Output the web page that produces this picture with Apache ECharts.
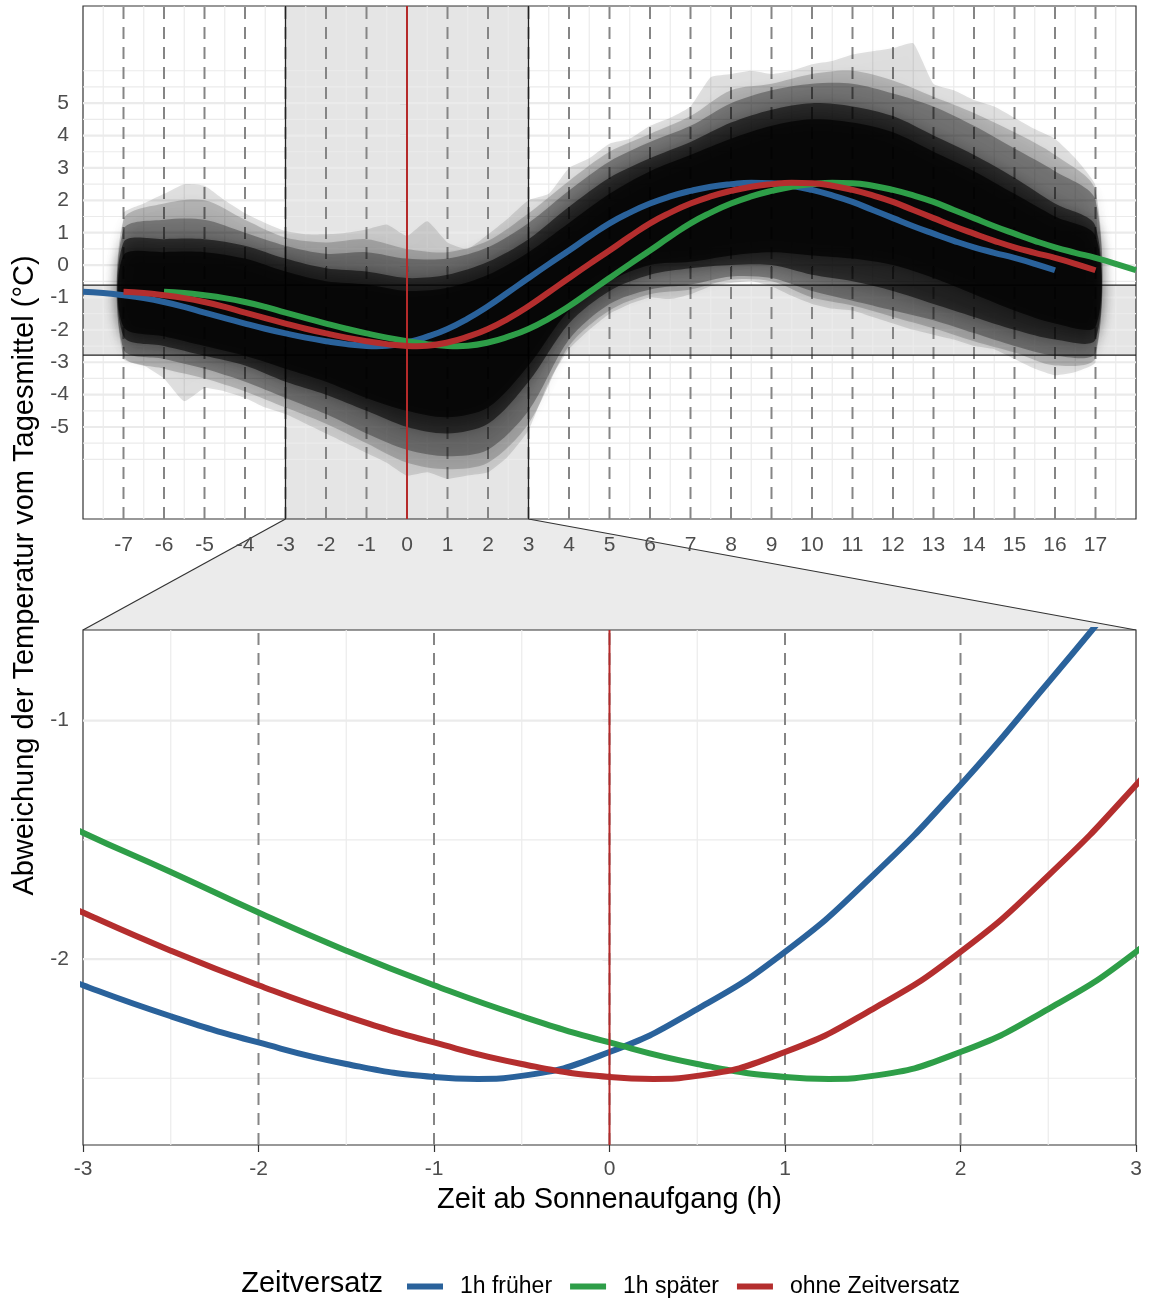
<!DOCTYPE html>
<html>
<head>
<meta charset="utf-8">
<script src="https://cdn.jsdelivr.net/npm/echarts/dist/echarts.min.js"></script>
<style>
  html, body { margin: 0; padding: 0; background: #ffffff; }
  #chart { width: 1151px; height: 1301px; }
</style>
</head>
<body>
<div id="chart"></div>
<script>
const FONT = '"Liberation Sans", Arial, Helvetica, sans-serif';

// Achsenbereiche: Gesamtansicht oben, Ausschnitt (Zoom) unten
const xBereichOben = [-8, 18];
const yBereichOben = [-7.84, 8];
const zoomX = [-3, 3];
const zoomY = [-2.78, -0.62];

// Achsenbeschriftungen
const xTicksOben = [-7, -6, -5, -4, -3, -2, -1, 0, 1, 2, 3, 4, 5, 6, 7, 8, 9, 10, 11, 12, 13, 14, 15, 16, 17];
const yTicksOben = [-5, -4, -3, -2, -1, 0, 1, 2, 3, 4, 5];
const xTicksUnten = [-3, -2, -1, 0, 1, 2, 3];
const yTicksUnten = [-2, -1];

// Hilfslinien
const xNebenOben = [-7.5, -6.5, -5.5, -4.5, -3.5, -2.5, -1.5, -0.5, 0.5, 1.5, 2.5, 3.5, 4.5, 5.5, 6.5, 7.5, 8.5, 9.5, 10.5, 11.5, 12.5, 13.5, 14.5, 15.5, 16.5, 17.5];
const yNebenOben = [-6, -5.5, -4.5, -3.5, -2.5, -1.5, -0.5, 0.5, 1.5, 2.5, 3.5, 4.5, 5.5, 6];
const xNebenUnten = [-2.5, -1.5, -0.5, 0.5, 1.5, 2.5];
const yNebenUnten = [-2.5, -1.5];
const stundenMarken = [-7, -6, -5, -4, -3, -2, -1, 0, 1, 2, 3, 4, 5, 6, 7, 8, 9, 10, 11, 12, 13, 14, 15, 16, 17];
const sonnenaufgang = 0;

// Geglättete Tagesgänge (Stunden ab Sonnenaufgang, Abweichung in °C)
const stundenOhne = [-7, -6.5, -6, -5.5, -5, -4.5, -4, -3.5, -3, -2.5, -2, -1.5, -1, -0.5, 0, 0.25, 0.5, 1, 1.5, 2, 2.5, 3, 3.5, 4, 4.5, 5, 5.5, 6, 6.5, 7, 7.5, 8, 8.5, 9, 9.5, 10, 10.5, 11, 11.5, 12, 12.5, 13, 13.5, 14, 14.5, 15, 15.5, 16, 16.5, 17];
const ohneZeitversatz = [-0.82, -0.86, -0.93, -1.02, -1.14, -1.29, -1.47, -1.635, -1.805, -1.965, -2.11, -2.24, -2.35, -2.44, -2.495, -2.503, -2.49, -2.39, -2.21, -1.97, -1.65, -1.27, -0.84, -0.40, 0.03, 0.45, 0.88, 1.29, 1.62, 1.90, 2.12, 2.29, 2.42, 2.50, 2.545, 2.53, 2.45, 2.32, 2.15, 1.95, 1.70, 1.45, 1.20, 0.97, 0.75, 0.55, 0.38, 0.22, 0.04, -0.16];

const stundenFrueher = [-8, -7.5, -7, -6.5, -6, -5.5, -5, -4.5, -4, -3.5, -3, -2.5, -2, -1.5, -1, -0.75, -0.5, 0, 0.5, 1, 1.5, 2, 2.5, 3, 3.5, 4, 4.5, 5, 5.5, 6, 6.5, 7, 7.5, 8, 8.5, 9, 9.5, 10, 10.5, 11, 11.5, 12, 12.5, 13, 13.5, 14, 14.5, 15, 15.5, 16];
const frueher = [-0.82, -0.86, -0.93, -1.02, -1.14, -1.29, -1.47, -1.635, -1.805, -1.965, -2.11, -2.24, -2.35, -2.44, -2.495, -2.503, -2.49, -2.39, -2.21, -1.97, -1.65, -1.27, -0.84, -0.40, 0.03, 0.45, 0.88, 1.29, 1.62, 1.90, 2.12, 2.29, 2.42, 2.50, 2.545, 2.53, 2.45, 2.32, 2.15, 1.95, 1.70, 1.45, 1.20, 0.97, 0.75, 0.55, 0.38, 0.22, 0.04, -0.16];

const stundenSpaeter = [-6, -5.5, -5, -4.5, -4, -3.5, -3, -2.5, -2, -1.5, -1, -0.5, 0, 0.5, 1, 1.25, 1.5, 2, 2.5, 3, 3.5, 4, 4.5, 5, 5.5, 6, 6.5, 7, 7.5, 8, 8.5, 9, 9.5, 10, 10.5, 11, 11.5, 12, 12.5, 13, 13.5, 14, 14.5, 15, 15.5, 16, 16.5, 17, 17.5, 18];
const spaeter = [-0.82, -0.86, -0.93, -1.02, -1.14, -1.29, -1.47, -1.635, -1.805, -1.965, -2.11, -2.24, -2.35, -2.44, -2.495, -2.503, -2.49, -2.39, -2.21, -1.97, -1.65, -1.27, -0.84, -0.40, 0.03, 0.45, 0.88, 1.29, 1.62, 1.90, 2.12, 2.29, 2.42, 2.50, 2.545, 2.53, 2.45, 2.32, 2.15, 1.95, 1.70, 1.45, 1.20, 0.97, 0.75, 0.55, 0.38, 0.22, 0.04, -0.16];

// Streuung der Einzeltage: äußere Hülle (halbstündlich), dichtere Bereiche (stündlich)
const wolkeStunden = [-7, -6.5, -6, -5.5, -5, -4.5, -4, -3.5, -3, -2.5, -2, -1.5, -1, -0.5, 0, 0.5, 1, 1.5, 2, 2.5, 3, 3.5, 4, 4.5, 5, 5.5, 6, 6.5, 7, 7.5, 8, 8.5, 9, 9.5, 10, 10.5, 11, 11.5, 12, 12.5, 13, 13.5, 14, 14.5, 15, 15.5, 16, 16.5, 17];
const huelleOben = [1.6, 1.9, 2.2, 2.5, 2.45, 2.0, 1.6, 1.3, 1.05, 0.95, 0.95, 1.0, 1.1, 1.25, 0.9, 1.35, 0.7, 0.5, 0.95, 1.45, 2.0, 2.2, 3.0, 3.3, 3.75, 3.9, 4.3, 4.55, 4.9, 5.8, 5.9, 6.0, 5.9, 6.0, 6.2, 6.3, 6.5, 6.6, 6.7, 6.85, 5.6, 5.4, 5.1, 4.9, 4.55, 4.2, 3.9, 3.3, 2.45];
const huelleUnten = [-2.9, -3.1, -3.5, -4.2, -3.8, -3.9, -4.1, -4.4, -4.6, -4.9, -5.2, -5.5, -5.8, -6.1, -6.5, -6.4, -6.6, -6.5, -6.4, -5.9, -5.1, -3.6, -2.6, -2.0, -1.5, -1.2, -1.0, -1.05, -0.9, -0.65, -0.55, -0.5, -0.65, -0.95, -1.2, -1.35, -1.4, -1.6, -1.8, -2.0, -2.15, -2.3, -2.5, -2.6, -2.9, -3.2, -3.4, -3.3, -3.0];

const dichteStunden = [-7, -6, -5, -4, -3, -2, -1, 0, 1, 2, 3, 4, 5, 6, 7, 8, 9, 10, 11, 12, 13, 14, 15, 16, 17];
const randOben = [1.4, 1.9, 2.0, 1.4, 0.85, 0.7, 0.8, 0.5, 0.4, 0.75, 1.6, 2.6, 3.5, 4.05, 4.6, 5.4, 5.6, 5.9, 6.0, 5.7, 5.2, 4.7, 4.1, 3.4, 2.3];
const randUnten = [-2.8, -3.2, -3.5, -3.9, -4.4, -4.9, -5.5, -6.1, -6.3, -6.1, -4.9, -2.5, -1.4, -0.9, -0.75, -0.45, -0.5, -1.0, -1.25, -1.6, -1.95, -2.35, -2.7, -3.1, -2.85];
const mitteOben = [1.1, 1.4, 1.4, 1.0, 0.6, 0.35, 0.4, 0.2, 0.2, 0.55, 1.3, 2.3, 3.2, 3.8, 4.3, 5.0, 5.4, 5.6, 5.6, 5.3, 4.9, 4.3, 3.6, 2.9, 2.0];
const mitteUnten = [-2.6, -2.9, -3.2, -3.6, -4.1, -4.6, -5.2, -5.7, -5.9, -5.7, -4.5, -2.3, -1.2, -0.75, -0.6, -0.35, -0.4, -0.8, -1.1, -1.4, -1.7, -2.1, -2.5, -2.8, -2.7];
const kernOben = [0.7, 0.8, 0.8, 0.6, 0.2, -0.1, -0.2, -0.4, -0.3, 0.1, 0.8, 1.8, 2.7, 3.3, 3.8, 4.4, 4.8, 5.0, 4.9, 4.6, 4.0, 3.4, 2.7, 1.9, 1.2];
const kernUnten = [-2.2, -2.5, -2.8, -3.1, -3.6, -4.0, -4.5, -5.0, -5.2, -4.9, -3.6, -1.8, -0.8, -0.3, -0.1, 0.0, 0.0, -0.3, -0.5, -0.8, -1.2, -1.6, -2.0, -2.3, -2.3];
const innenOben = [0.3, 0.4, 0.4, 0.2, -0.2, -0.5, -0.6, -0.8, -0.7, -0.3, 0.4, 1.3, 2.2, 2.9, 3.4, 3.9, 4.3, 4.5, 4.4, 4.1, 3.5, 2.9, 2.2, 1.5, 0.9];
const innenUnten = [-1.9, -2.2, -2.5, -2.8, -3.2, -3.6, -4.1, -4.5, -4.7, -4.4, -3.1, -1.4, -0.5, 0.0, 0.1, 0.3, 0.4, 0.3, 0.2, 0.0, -0.4, -0.9, -1.4, -1.8, -1.9];

const NAME_FRUEHER = '1h früher';
const NAME_SPAETER = '1h später';
const NAME_OHNE = 'ohne Zeitversatz';
const FARBE = { frueher: '#2a629b', spaeter: '#2e9e48', ohne: '#b42e2e' };

const chart = echarts.init(document.getElementById('chart'), null, { renderer: 'canvas' });

function paare(xs, ys) { return xs.map((x, i) => [x, ys[i]]); }

// Linien und Flächen im Koordinatensystem eines Panels (senkrecht: 'x', waagrecht: 'y')
function ebene(idx, z, xr, yr, elemente) {
  return {
    type: 'custom', xAxisIndex: idx, yAxisIndex: idx, z: z, silent: true,
    data: [[xr[0], yr[0]]],
    renderItem: function (params, api) {
      const children = elemente.map(function (e) {
        if (e.art === 'flaeche') {
          const p1 = api.coord([e.x[0], e.y[0]]);
          const p2 = api.coord([e.x[1], e.y[1]]);
          return {
            type: 'rect',
            shape: { x: Math.min(p1[0], p2[0]), y: Math.min(p1[1], p2[1]), width: Math.abs(p2[0] - p1[0]), height: Math.abs(p2[1] - p1[1]) },
            style: { fill: e.farbe }
          };
        }
        const p1 = e.art === 'x' ? api.coord([e.wert, yr[0]]) : api.coord([xr[0], e.wert]);
        const p2 = e.art === 'x' ? api.coord([e.wert, yr[1]]) : api.coord([xr[1], e.wert]);
        return {
          type: 'line', shape: { x1: p1[0], y1: p1[1], x2: p2[0], y2: p2[1] },
          style: { stroke: e.stil.color, lineWidth: e.stil.width, lineDash: e.stil.dash || null, fill: null }
        };
      });
      return { type: 'group', children: children };
    }
  };
}
function senkrecht(werte, stil) { return werte.map(v => ({ art: 'x', wert: v, stil: stil })); }
function waagrecht(werte, stil) { return werte.map(v => ({ art: 'y', wert: v, stil: stil })); }

// Fläche zwischen oberer und unterer Hülle, weich auslaufend
function band(hours, upper, lower, alpha, smooth, blur) {
  const fill = 'rgba(0,0,0,' + alpha + ')';
  return {
    type: 'custom', xAxisIndex: 0, yAxisIndex: 0, z: 3, silent: true,
    data: [[hours[0], upper[0]]],
    renderItem: function (params, api) {
      const pts = [];
      for (let i = 0; i < hours.length; i++) pts.push(api.coord([hours[i], upper[i]]));
      for (let i = hours.length - 1; i >= 0; i--) pts.push(api.coord([hours[i], lower[i]]));
      return {
        type: 'polygon', shape: { points: pts, smooth: smooth },
        style: { fill: fill, shadowBlur: blur, shadowColor: 'rgba(0,0,0,' + (alpha * 0.9) + ')' }
      };
    }
  };
}

function kurve(idx, name, xs, ys, color, width) {
  return {
    type: 'line', name: name, xAxisIndex: idx, yAxisIndex: idx, z: 4,
    data: paare(xs, ys), showSymbol: false, symbol: 'none', smooth: 0.5,
    lineStyle: { color: color, width: width }, itemStyle: { color: color },
    silent: true, clip: true
  };
}

const gitterHaupt = { color: '#ebebeb', width: 2.2 };
const gitterNeben = { color: '#ebebeb', width: 1.2 };
const strich = { color: '#858585', width: 2, dash: [12, 8] };
const zoomLinie = { color: '#222222', width: 1.3 };
const rot = { color: '#b52a2a', width: 2 };
const schattierung = 'rgba(0,0,0,0.10)';

const achseLabel = { fontSize: 21, color: '#4d4d4d', fontFamily: FONT };
const achseTick = { show: true, length: 7, lineStyle: { color: '#333333', width: 1.2 } };

const option = {
  animation: false,
  backgroundColor: '#ffffff',
  grid: [
    { left: 83, top: 6, width: 1053, height: 513, show: true, borderColor: '#333333', borderWidth: 1.2, backgroundColor: '#ffffff', containLabel: false },
    { left: 83, top: 630, width: 1053, height: 515, show: true, borderColor: '#333333', borderWidth: 1.2, backgroundColor: '#ffffff', containLabel: false }
  ],
  xAxis: [
    {
      type: 'value', gridIndex: 0, min: xBereichOben[0], max: xBereichOben[1],
      axisLine: { show: false }, splitLine: { show: false },
      axisTick: Object.assign({ customValues: xTicksOben }, achseTick),
      axisLabel: Object.assign({ customValues: xTicksOben, margin: 16 }, achseLabel)
    },
    {
      type: 'value', gridIndex: 1, min: zoomX[0], max: zoomX[1],
      axisLine: { show: false }, splitLine: { show: false },
      axisTick: Object.assign({ customValues: xTicksUnten }, achseTick),
      axisLabel: Object.assign({ customValues: xTicksUnten, margin: 14 }, achseLabel)
    }
  ],
  yAxis: [
    {
      type: 'value', gridIndex: 0, min: yBereichOben[0], max: yBereichOben[1],
      axisLine: { show: false }, splitLine: { show: false },
      axisTick: Object.assign({ customValues: yTicksOben }, achseTick),
      axisLabel: Object.assign({ customValues: yTicksOben, margin: 14 }, achseLabel)
    },
    {
      type: 'value', gridIndex: 1, min: zoomY[0], max: zoomY[1],
      axisLine: { show: false }, splitLine: { show: false },
      axisTick: Object.assign({ customValues: yTicksUnten }, achseTick),
      axisLabel: Object.assign({ customValues: yTicksUnten, margin: 14 }, achseLabel)
    }
  ],
  legend: {
    data: [NAME_FRUEHER, NAME_SPAETER, NAME_OHNE],
    left: 402, top: 1270, icon: 'rect', itemWidth: 36, itemHeight: 6, itemGap: 18,
    selectedMode: false,
    textStyle: { fontSize: 23, color: '#000000', fontFamily: FONT, padding: [0, 0, 0, 12] }
  },
  series: [
    // Gesamtansicht: Markierung des Ausschnitts, Gitter, Stundenmarken
    ebene(0, 1, xBereichOben, yBereichOben, [
      { art: 'flaeche', x: zoomX, y: yBereichOben, farbe: schattierung },
      { art: 'flaeche', x: [xBereichOben[0], zoomX[0]], y: zoomY, farbe: schattierung },
      { art: 'flaeche', x: [zoomX[1], xBereichOben[1]], y: zoomY, farbe: schattierung }
    ].concat(
      senkrecht(xNebenOben, gitterNeben), waagrecht(yNebenOben, gitterNeben), waagrecht(yTicksOben, gitterHaupt),
      senkrecht(stundenMarken, strich),
      senkrecht(zoomX, zoomLinie), waagrecht(zoomY, zoomLinie)
    )),
    band(wolkeStunden, huelleOben, huelleUnten, 0.12, 0.15, 8),
    band(dichteStunden, randOben, randUnten, 0.18, 0.3, 12),
    band(dichteStunden, mitteOben, mitteUnten, 0.3, 0.3, 14),
    band(dichteStunden, kernOben, kernUnten, 0.55, 0.3, 14),
    band(dichteStunden, innenOben, innenUnten, 0.65, 0.3, 14),
    kurve(0, NAME_FRUEHER, stundenFrueher, frueher, FARBE.frueher, 6),
    kurve(0, NAME_SPAETER, stundenSpaeter, spaeter, FARBE.spaeter, 6),
    kurve(0, NAME_OHNE, stundenOhne, ohneZeitversatz, FARBE.ohne, 6),
    ebene(0, 6, xBereichOben, yBereichOben, senkrecht([sonnenaufgang], rot)),

    // Ausschnitt
    ebene(1, 1, zoomX, zoomY, [].concat(
      senkrecht(xNebenUnten, gitterNeben), waagrecht(yNebenUnten, gitterNeben), waagrecht(yTicksUnten, gitterHaupt),
      senkrecht(stundenMarken.filter(v => v > zoomX[0] && v < zoomX[1]), strich)
    )),
    kurve(1, NAME_FRUEHER, stundenFrueher, frueher, FARBE.frueher, 6),
    kurve(1, NAME_SPAETER, stundenSpaeter, spaeter, FARBE.spaeter, 6),
    kurve(1, NAME_OHNE, stundenOhne, ohneZeitversatz, FARBE.ohne, 6),
    ebene(1, 6, zoomX, zoomY, senkrecht([sonnenaufgang], rot))
  ]
};

chart.setOption(option);

// Verbindung zwischen Gesamtansicht und Ausschnitt sowie Achsentitel
const px = (idx, pt) => chart.convertToPixel({ xAxisIndex: idx, yAxisIndex: idx }, pt);
const a = px(0, [zoomX[0], yBereichOben[0]]);
const b = px(0, [zoomX[1], yBereichOben[0]]);
const c = px(1, [zoomX[1], zoomY[1]]);
const d = px(1, [zoomX[0], zoomY[1]]);
const obenRand = px(0, [0, yBereichOben[1]])[1];
const untenRand = px(1, [0, zoomY[0]])[1];
const unten0 = px(1, [zoomX[0], zoomY[0]]);
const unten1 = px(1, [zoomX[1], zoomY[0]]);

chart.setOption({
  graphic: [
    { type: 'polygon', z: -10, silent: true, shape: { points: [a, b, c, d] }, style: { fill: '#ebebeb', stroke: null } },
    { type: 'polyline', z: -9, silent: true, shape: { points: [a, d] }, style: { stroke: '#333333', lineWidth: 1.2, fill: null } },
    { type: 'polyline', z: -9, silent: true, shape: { points: [b, c] }, style: { stroke: '#333333', lineWidth: 1.2, fill: null } },
    {
      type: 'text', silent: true, x: 25, y: (obenRand + untenRand) / 2, rotation: Math.PI / 2,
      style: { text: 'Abweichung der Temperatur vom Tagesmittel (°C)', fill: '#000000', fontSize: 29, fontFamily: FONT, align: 'center', verticalAlign: 'middle' }
    },
    {
      type: 'text', silent: true, x: (unten0[0] + unten1[0]) / 2, y: 1200,
      style: { text: 'Zeit ab Sonnenaufgang (h)', fill: '#000000', fontSize: 29, fontFamily: FONT, align: 'center', verticalAlign: 'middle' }
    },
    {
      type: 'text', silent: true, x: 383, y: 1284,
      style: { text: 'Zeitversatz', fill: '#000000', fontSize: 29, fontFamily: FONT, align: 'right', verticalAlign: 'middle' }
    }
  ]
});
</script>
</body>
</html>
